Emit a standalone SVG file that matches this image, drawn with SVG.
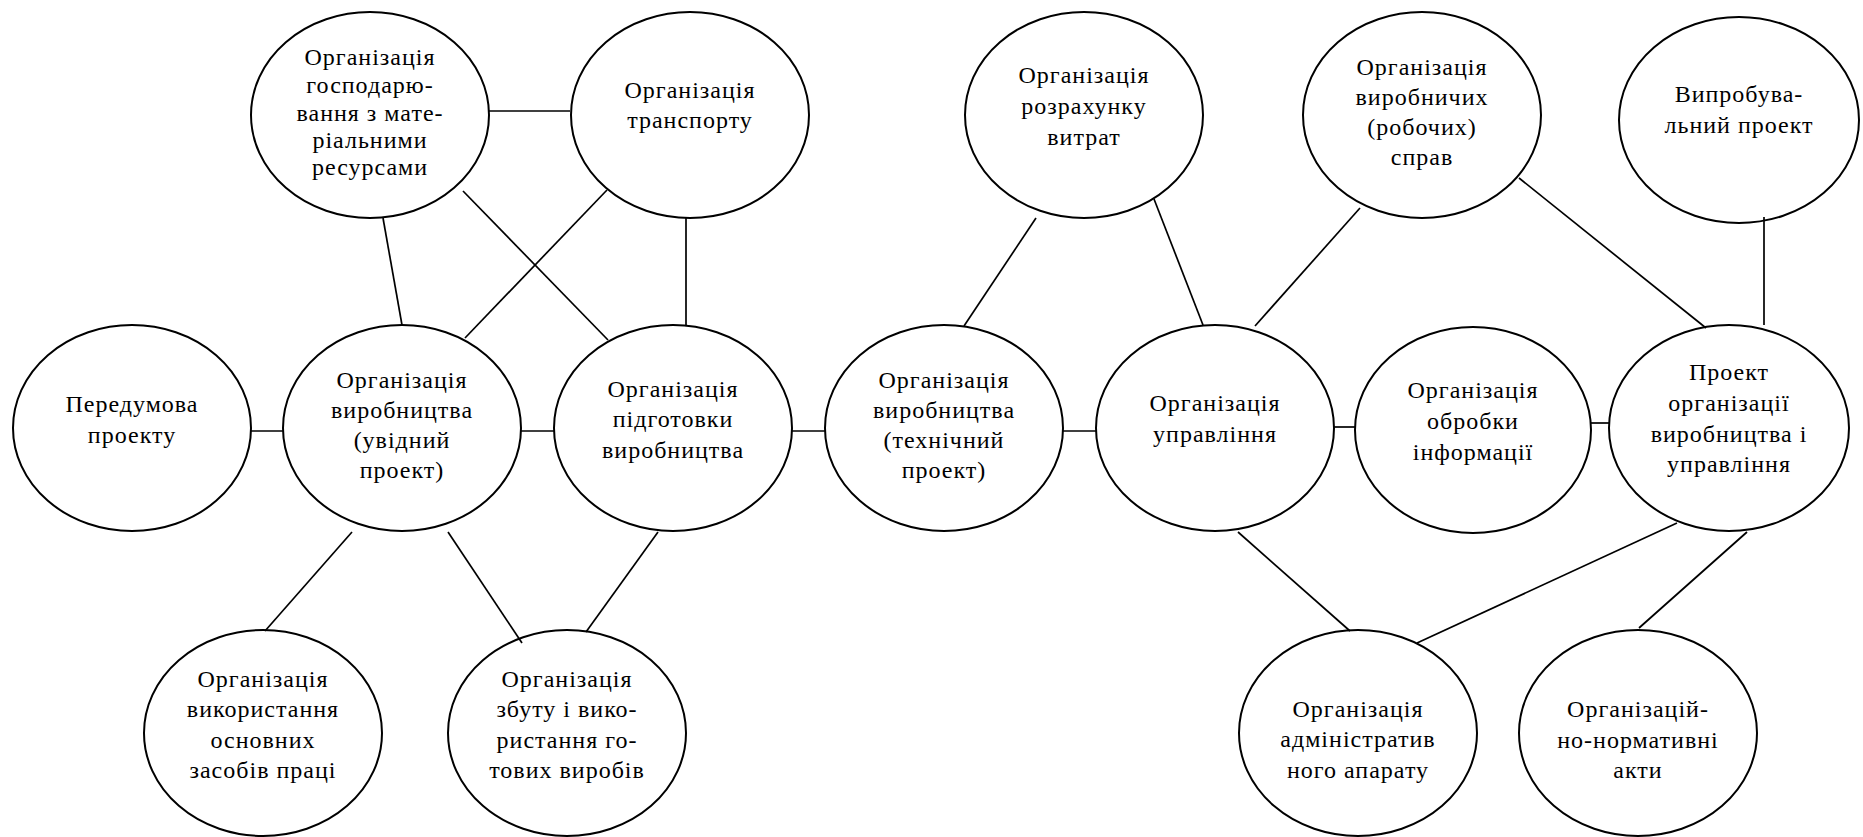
<svg xmlns="http://www.w3.org/2000/svg" width="1863" height="837" viewBox="0 0 1863 837" font-family="Liberation Serif, Times New Roman, serif">
<style>
.n ellipse{fill:#fff;stroke:#000;stroke-width:2}
.n text{font-size:24px;letter-spacing:1px;fill:#000;text-anchor:middle}
.c line{stroke:#000;stroke-width:1.7}
</style>
<rect width="1863" height="837" fill="#fff"/>
<g id="n1" class="n" font-family="Liberation Serif, serif"><ellipse cx="370" cy="115" rx="119" ry="103"/><text x="370" y="65">Організація</text><text x="370" y="93">господарю-</text><text x="370" y="121">вання з мате-</text><text x="370" y="148">ріальними</text><text x="370" y="175">ресурсами</text></g>
<g id="n2" class="n" font-family="Liberation Serif, serif"><ellipse cx="690" cy="115" rx="119" ry="103"/><text x="690" y="98">Організація</text><text x="690" y="128">транспорту</text></g>
<g id="n3" class="n" font-family="Liberation Serif, serif"><ellipse cx="1084" cy="115" rx="119" ry="103"/><text x="1084" y="83">Організація</text><text x="1084" y="114">розрахунку</text><text x="1084" y="145">витрат</text></g>
<g id="n4" class="n" font-family="Liberation Serif, serif"><ellipse cx="1422" cy="115" rx="119" ry="103"/><text x="1422" y="75">Організація</text><text x="1422" y="105">виробничих</text><text x="1422" y="135">(робочих)</text><text x="1422" y="165">справ</text></g>
<g id="n5" class="n" font-family="Liberation Serif, serif"><ellipse cx="1739" cy="120" rx="120" ry="103"/><text x="1739" y="102">Випробува-</text><text x="1739" y="133">льний проект</text></g>
<g id="n6" class="n" font-family="Liberation Serif, serif"><ellipse cx="132" cy="428" rx="119" ry="103"/><text x="132" y="412">Передумова</text><text x="132" y="443">проекту</text></g>
<g id="n7" class="n" font-family="Liberation Serif, serif"><ellipse cx="402" cy="428" rx="119" ry="103"/><text x="402" y="388">Організація</text><text x="402" y="418">виробництва</text><text x="402" y="448">(увідний</text><text x="402" y="478">проект)</text></g>
<g id="n8" class="n" font-family="Liberation Serif, serif"><ellipse cx="673" cy="428" rx="119" ry="103"/><text x="673" y="397">Організація</text><text x="673" y="427">підготовки</text><text x="673" y="458">виробництва</text></g>
<g id="n9" class="n" font-family="Liberation Serif, serif"><ellipse cx="944" cy="428" rx="119" ry="103"/><text x="944" y="388">Організація</text><text x="944" y="418">виробництва</text><text x="944" y="448">(технічний</text><text x="944" y="478">проект)</text></g>
<g id="n10" class="n" font-family="Liberation Serif, serif"><ellipse cx="1215" cy="428" rx="119" ry="103"/><text x="1215" y="411">Організація</text><text x="1215" y="442">управління</text></g>
<g id="n11" class="n" font-family="Liberation Serif, serif"><ellipse cx="1473" cy="430" rx="118" ry="103"/><text x="1473" y="398">Організація</text><text x="1473" y="429">обробки</text><text x="1473" y="460">інформації</text></g>
<g id="n12" class="n" font-family="Liberation Serif, serif"><ellipse cx="1729" cy="428" rx="120" ry="103"/><text x="1729" y="380">Проект</text><text x="1729" y="411">організації</text><text x="1729" y="442">виробництва і</text><text x="1729" y="472">управління</text></g>
<g id="n13" class="n" font-family="Liberation Serif, serif"><ellipse cx="263" cy="733" rx="119" ry="103"/><text x="263" y="687">Організація</text><text x="263" y="717">використання</text><text x="263" y="748">основних</text><text x="263" y="778">засобів праці</text></g>
<g id="n14" class="n" font-family="Liberation Serif, serif"><ellipse cx="567" cy="733" rx="119" ry="103"/><text x="567" y="687">Організація</text><text x="567" y="717">збуту і вико-</text><text x="567" y="748">ристання го-</text><text x="567" y="778">тових виробів</text></g>
<g id="n15" class="n" font-family="Liberation Serif, serif"><ellipse cx="1358" cy="733" rx="119" ry="103"/><text x="1358" y="717">Організація</text><text x="1358" y="747">адміністратив</text><text x="1358" y="778">ного апарату</text></g>
<g id="n16" class="n" font-family="Liberation Serif, serif"><ellipse cx="1638" cy="733" rx="119" ry="103"/><text x="1638" y="717">Організацій-</text><text x="1638" y="748">но-нормативні</text><text x="1638" y="778">акти</text></g>
<g id="connectors" class="c">
<line x1="489" y1="111" x2="570" y2="111"/>
<line x1="383" y1="218" x2="402" y2="325"/>
<line x1="607" y1="190" x2="465" y2="338"/>
<line x1="463" y1="191" x2="608" y2="340"/>
<line x1="686" y1="218" x2="686" y2="325"/>
<line x1="251" y1="431" x2="284" y2="431"/>
<line x1="521" y1="431" x2="555" y2="431"/>
<line x1="792" y1="431" x2="825" y2="431"/>
<line x1="1062" y1="431" x2="1096" y2="431"/>
<line x1="1334" y1="427" x2="1355" y2="427"/>
<line x1="1591" y1="423" x2="1609" y2="423"/>
<line x1="1036" y1="218" x2="964" y2="326"/>
<line x1="1154" y1="199" x2="1203" y2="325"/>
<line x1="1360" y1="208" x2="1255" y2="326"/>
<line x1="1519" y1="178" x2="1706" y2="328"/>
<line x1="1764" y1="217" x2="1764" y2="325"/>
<line x1="352" y1="532" x2="265" y2="631"/>
<line x1="448" y1="532" x2="522" y2="643"/>
<line x1="658" y1="532" x2="586" y2="632"/>
<line x1="1238" y1="532" x2="1350" y2="631"/>
<line x1="1677" y1="523" x2="1417" y2="643"/>
<line x1="1747" y1="532" x2="1639" y2="628"/>
</g>
</svg>
